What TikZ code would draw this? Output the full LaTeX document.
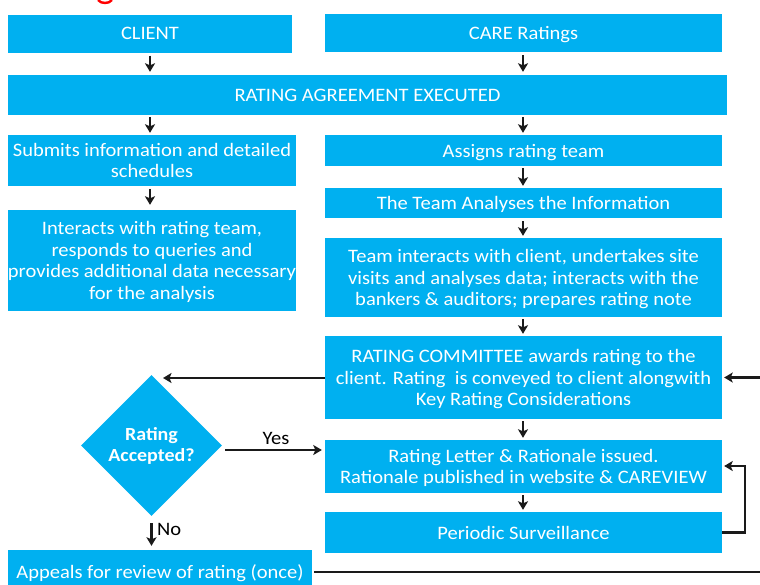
\documentclass[tikz,border=0pt]{standalone}
\usepackage{fontspec}
\setmainfont{Carlito}[FakeStretch=1.08]
\usetikzlibrary{arrows.meta,shapes.geometric,calc}
\definecolor{boxblue}{RGB}{0,176,240}
\definecolor{arrowdark}{RGB}{26,26,26}
\begin{document}
\begin{tikzpicture}[x=1pt,y=-1pt,
  box/.style={fill=boxblue,draw=none,text=white,align=center,inner sep=0pt,text depth=0pt,
    font=\fontsize{19}{21.5}\selectfont},
  dia/.style={diamond,fill=boxblue,draw=none,text=white,align=center,inner sep=0pt,
    minimum width=141pt,minimum height=141pt,font=\bfseries\fontsize{18.5}{21}\selectfont},
  arr/.style={draw=arrowdark,line width=2.6pt,-{Stealth[length=8.5pt,width=10pt,inset=2pt]}},
  lbl/.style={font=\fontsize{19}{21}\selectfont,text=black,inner sep=0pt}]
\useasboundingbox (0,0) rectangle (760,584);
\fill[white] (0,0) rectangle (760,584);
% red fragment of cut-off title
\draw[red,line width=2.4pt] (98,0) .. controls (101,4) and (109,4) .. (112,0);
% boxes
\node[box,minimum width=284pt,minimum height=38pt] (client) at (150,33.5) {CLIENT};
\node[box,minimum width=397pt,minimum height=38pt] (care) at (523.5,33) {CARE Ratings};
\node[box,minimum width=719pt,minimum height=40pt] (agree) at (367.5,95) {RATING AGREEMENT EXECUTED};
\node[box,minimum width=288pt,minimum height=51pt] (submit) at (152,160.5) {Submits information and detailed\\schedules};
\node[box,minimum width=288pt,minimum height=101pt] (interact) at (152,260.5) {Interacts with rating team,\\responds to queries and\\provides additional data necessary\\for the analysis};
\node[box,minimum width=397pt,minimum height=31pt] (assign) at (523.5,150.5) {Assigns rating team};
\node[box,minimum width=397pt,minimum height=30pt] (analyse) at (523.5,203) {The Team Analyses the Information};
\node[box,minimum width=397pt,minimum height=79pt] (teamint) at (523.5,277.5) {Team interacts with client, undertakes site\\visits and analyses data; interacts with the\\bankers \& auditors; prepares rating note};
\node[box,minimum width=397pt,minimum height=83pt] (committee) at (523.5,377.5) {RATING COMMITTEE awards rating to the\\client. Rating\ \ is conveyed to client alongwith\\Key Rating Considerations};
\node[box,minimum width=397pt,minimum height=53pt] (letter) at (523.5,466.5) {Rating Letter \& Rationale issued.\\Rationale published in website \& CAREVIEW};
\node[box,minimum width=397pt,minimum height=41pt] (periodic) at (523.5,532.5) {Periodic Surveillance};
\node[box,minimum width=304pt,minimum height=44pt] (appeals) at (160,572) {Appeals for review of rating (once)};
\node[dia] (acc) at (151.5,445.5) {Rating\\Accepted?};
% helper coordinates
\coordinate (lx) at (150,0);
\coordinate (rx) at (523,0);
\coordinate (diatop) at (163,378);
\coordinate (yesS) at (225,450);
\coordinate (offR) at (790,0);
\coordinate (loopR) at (745,0);
% vertical arrows left column
\draw[arr,shorten <=3pt,shorten >=3pt] (lx |- client.south) -- (lx |- agree.north);
\draw[arr,shorten <=2pt,shorten >=2pt] (lx |- agree.south) -- (lx |- submit.north);
\draw[arr,shorten <=3pt,shorten >=5pt] (lx |- submit.south) -- (lx |- interact.north);
% vertical arrows right column
\draw[arr,shorten <=3pt,shorten >=3pt] (rx |- care.south) -- (rx |- agree.north);
\draw[arr,shorten <=2pt,shorten >=2pt] (rx |- agree.south) -- (rx |- assign.north);
\draw[arr,shorten <=2pt,shorten >=2pt] (rx |- assign.south) -- (rx |- analyse.north);
\draw[arr,shorten <=3pt,shorten >=2pt] (rx |- analyse.south) -- (rx |- teamint.north);
\draw[arr,shorten <=2pt,shorten >=2pt] (rx |- teamint.south) -- (rx |- committee.north);
\draw[arr,shorten <=2pt,shorten >=2pt] (rx |- committee.south) -- (rx |- letter.north);
\draw[arr,shorten <=2pt,shorten >=2pt] (rx |- letter.south) -- (rx |- periodic.north);
% committee to diamond
\draw[arr] (committee.west |- diatop) -- (diatop);
% yes
\draw[arr,shorten >=3pt] (yesS) -- (yesS -| letter.west);
\node[lbl] (yes) at (276,438) {Yes};
% no
\draw[arr,shorten <=7pt,shorten >=4pt] (acc.south) -- (acc.south |- appeals.north);
\node[lbl,anchor=west] (no) at (157,529) {No};
% surveillance loop
\draw[arr,shorten >=2pt] (periodic.east) -- (loopR |- periodic.east) -- (loopR |- 0,466) -- (letter.east |- 0,466);
% appeals back to committee (via off-page right edge)
\draw[arr,shorten >=2pt] ([xshift=2pt]appeals.east) -- (offR |- appeals.east) -- (offR |- committee.east) -- (committee.east);
\end{tikzpicture}
\end{document}
